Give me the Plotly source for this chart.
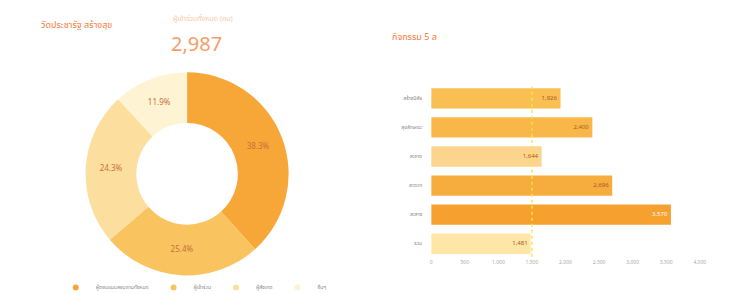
import plotly.graph_objects as go

# Donut data
pie_labels = ["ผู้ตอบแบบสอบถามทั้งหมด", "ผู้เข้าร่วม", "ผู้สังเกต", "อื่นๆ"]
pie_values = [1145, 760, 727, 355]
pie_colors = ["#F7A738", "#F9C45F", "#FCDF9F", "#FEF4D4"]
total_value = 2987

# Bar data (bottom to top)
bar_cats = ["รวม", "สะสาง", "สะดวก", "สะอาด", "สุขลักษณะ", "สร้างนิสัย"]
bar_values = [1481, 3570, 2696, 1644, 2400, 1926]
bar_colors = ["#FDE6A6", "#F6A02F", "#F7AC3E", "#FBD48E", "#F8B748", "#F9BF52"]
bar_text_colors = ["#A85A25", "#FFFFFF", "#A85A25", "#A85A25", "#A85A25", "#A85A25"]
target_value = 1500
x_ticks = [0, 500, 1000, 1500, 2000, 2500, 3000, 3500, 4000]
x_tick_text = ["0", "500", "1,000", "1,500", "2,000", "2,500", "3,000", "3,500", "4,000"]

font = "Noto Sans Thai, Noto Sans, sans-serif"

fig = go.Figure()
fig.add_trace(go.Pie(
    labels=pie_labels, values=pie_values, hole=0.5, sort=False,
    direction="clockwise", rotation=0,
    marker=dict(colors=pie_colors, line=dict(width=0)),
    texttemplate="%{percent:.1%}", textposition="inside",
    insidetextorientation="horizontal",
    textfont=dict(size=8, color="#C8703A", family=font),
    domain=dict(x=[0.085, 0.395], y=[0.065, 0.775]),
    showlegend=False,
))

# legend entries with circle symbols
for lab, col in zip(pie_labels, pie_colors):
    fig.add_trace(go.Scatter(
        x=[None], y=[None], mode="markers", name=lab,
        marker=dict(symbol="circle", size=6, color=col),
        xaxis="x2", yaxis="y2", showlegend=True, hoverinfo="skip",
    ))

fig.add_trace(go.Bar(
    y=bar_cats, x=bar_values, orientation="h",
    marker=dict(color=bar_colors, line=dict(width=0)),
    text=[f"{v:,}" for v in bar_values], textposition="inside",
    insidetextanchor="end",
    textfont=dict(size=6, color=bar_text_colors, family=font),
    xaxis="x", yaxis="y", showlegend=False,
))

fig.add_shape(type="line", xref="x", yref="paper", x0=target_value, x1=target_value,
              y0=0.13, y1=0.725, line=dict(color="#FFE24A", width=1.5, dash="dot"),
              layer="above")

fig.update_layout(
    width=750, height=294,
    margin=dict(l=0, r=0, t=0, b=0),
    paper_bgcolor="white", plot_bgcolor="white",
    font=dict(family=font, color="#999999"),
    bargap=0.3,
    xaxis=dict(domain=[0.569, 0.931], range=[0, 4000], tickvals=x_ticks,
               ticktext=x_tick_text, showgrid=False, zeroline=False,
               showline=False, tickfont=dict(size=5, color="#AAAAAA"), ticks=""),
    yaxis=dict(domain=[0.125, 0.735], showgrid=False, zeroline=False, showline=False,
               tickfont=dict(size=5, color="#888888"), ticks="", ticklabelstandoff=8,
               anchor="x"),
    xaxis2=dict(domain=[0, 0.01], visible=False, anchor="y2"),
    yaxis2=dict(domain=[0, 0.01], visible=False, anchor="x2"),
    legend=dict(orientation="h", x=0.063, y=0.022, xanchor="left", yanchor="middle",
                font=dict(size=5, color="#888888"),
                bgcolor="rgba(0,0,0,0)", itemwidth=30, tracegroupgap=0),
    annotations=[
        dict(text="วัดประชารัฐ สร้างสุข", x=0.04, y=0.94, xref="paper", yref="paper",
             xanchor="left", yanchor="middle", showarrow=False,
             font=dict(size=9, color="#F47A3A", family=font)),
        dict(text="ผู้เข้าร่วมทั้งหมด (คน)", x=0.219, y=0.965, xref="paper", yref="paper",
             xanchor="left", yanchor="middle", showarrow=False,
             font=dict(size=7, color="#F8C9A6", family=font)),
        dict(text=f"{total_value:,}", x=0.215, y=0.87, xref="paper", yref="paper",
             xanchor="left", yanchor="middle", showarrow=False,
             font=dict(size=20, color="#F59E6A", family=font)),
        dict(text="กิจกรรม 5 ส", x=0.513, y=0.9, xref="paper", yref="paper",
             xanchor="left", yanchor="middle", showarrow=False,
             font=dict(size=9, color="#F47A3A", family=font)),
    ],
)

fig.write_html("out.html")
